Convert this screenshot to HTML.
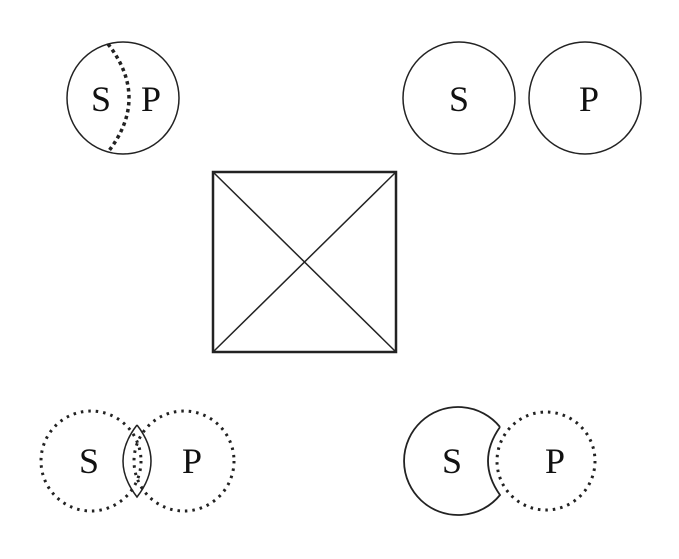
<!DOCTYPE html>
<html><head><style>body{margin:0;background:#fff}</style></head><body>
<svg width="679" height="554" viewBox="0 0 679 554" xmlns="http://www.w3.org/2000/svg" font-family="Liberation Serif, serif" font-size="36">
<g fill="none" stroke="#222" stroke-width="1.5">
<circle cx="123" cy="98" r="56"/>
<path d="M108,44 Q150,98 108,152" stroke-width="3.5" stroke-dasharray="3.5,3.5"/>
<circle cx="459" cy="98" r="56"/>
<circle cx="585" cy="98" r="56"/>
<rect x="213" y="172" width="183" height="180" stroke-width="2.5"/>
<line x1="213" y1="172" x2="396" y2="352"/>
<line x1="396" y1="172" x2="213" y2="352"/>
<circle cx="91" cy="461" r="50" stroke-width="3" stroke-dasharray="2.5,5"/>
<circle cx="184" cy="461" r="50" stroke-width="3" stroke-dasharray="2.5,5"/>
<path d="M137,425 Q109,461 137,497 Q165,461 137,425"/>
<circle cx="546" cy="461" r="49" stroke-width="3" stroke-dasharray="2.5,5"/>
<path d="M500,427 A54,54 0 1,0 500,495 Q476,461 500,427" stroke-width="1.8"/>
</g>
<g fill="#111" text-anchor="middle">
<text x="101" y="111">S</text><text x="151" y="111">P</text>
<text x="459" y="111">S</text><text x="589" y="111">P</text>
<text x="89" y="473">S</text><text x="192" y="473">P</text>
<text x="452" y="473">S</text><text x="555" y="473">P</text>
</g>
</svg>
</body></html>
